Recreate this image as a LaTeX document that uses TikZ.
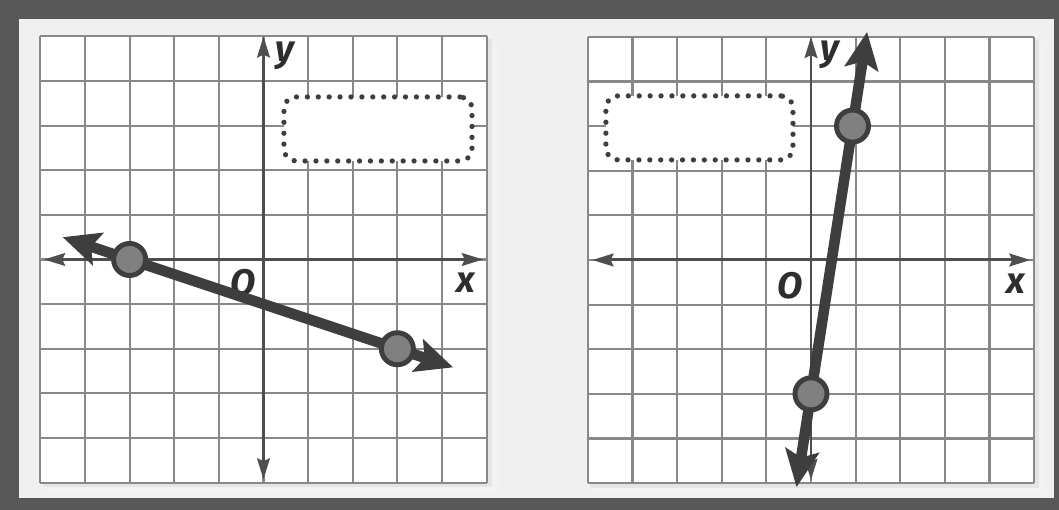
\documentclass[tikz,border=0pt]{standalone}
\usepackage{fontspec}
\setsansfont{Fira Sans}
\usetikzlibrary{arrows.meta}

\definecolor{framegray}{HTML}{585858}
\definecolor{backgray}{HTML}{F0F0F0}
\definecolor{gridgray}{HTML}{888888}
\definecolor{axisgray}{HTML}{4E4E4E}
\definecolor{linegray}{HTML}{3E3E3E}
\definecolor{pointgray}{HTML}{808080}
\definecolor{textgray}{HTML}{2E2E2E}

\begin{document}
\begin{tikzpicture}[x=0.01cm,y=0.01cm,
        axisline/.style={draw=axisgray,line width=0.85pt,
            {Stealth[length=6pt,width=3.6pt,inset=0.8pt]}-{Stealth[length=6pt,width=3.6pt,inset=0.8pt]}},
        plotline/.style={draw=linegray,line width=3pt,
            {Stealth[length=10.5pt,width=9.5pt,inset=2pt]}-{Stealth[length=10.5pt,width=9.5pt,inset=2pt]}},
        gridline/.style={draw=gridgray,line width=0.6pt},
        ptmark/.style={circle,draw=linegray,fill=pointgray,line width=1.4pt,
            minimum size=0.32cm,inner sep=0pt},
        answer/.style={draw=linegray,fill=white,line width=1.5pt,rounded corners=0.12cm,
            dash pattern=on 0pt off 3.1pt,line cap=round,inner sep=0pt},
        axislabel/.style={font=\sffamily\bfseries\itshape\fontsize{10.5}{12}\selectfont,
            text=textgray,inner sep=0pt},
        shade1/.style={fill=black!10},
        shade2/.style={fill=black!5},
    ]
    % frame
    \fill[framegray] (0,0) rectangle (1059,510);
    \fill[backgray] (19,12) rectangle (1054,491);

    % left graph
    \begin{scope}[shift={(263.5,250.5)},x=0.446cm,y=0.446cm]
        \fill[shade2] (-4.9,-5.22) rectangle (5.26,4.9);
        \fill[shade1] (-4.95,-5.1) rectangle (5.12,4.95);
        \fill[white] (-5,-5) rectangle (5,5);
        \draw[gridline,step=1] (-5,-5) grid (5,5);

        \draw[axisline] (-4.92,0) -- (4.92,0);
        \draw[axisline] (0,-4.93) -- (0,5);

        \node[axislabel] (ly) at (0.48,4.56) {y};
        \node[axislabel] (lx) at (4.54,-0.53) {x};
        \node[axislabel] (lo) at (-0.46,-0.53) {O};

        \node[answer,minimum width=1.88cm,minimum height=0.64cm] (lans)
            at (2.565,2.925) {};

        \coordinate (lstart) at (-4.5,0.5);
        \coordinate (lend)   at (4.25,-2.417);
        \draw[plotline] (lstart) -- (lend);
        \node[ptmark] (la) at (-3,0) {};
        \node[ptmark] (lb) at (3,-2) {};
    \end{scope}

    % right graph
    \begin{scope}[shift={(811,250)},x=0.446cm,y=0.446cm]
        \fill[shade2] (-4.9,-5.22) rectangle (5.26,4.9);
        \fill[shade1] (-4.95,-5.1) rectangle (5.12,4.95);
        \fill[white] (-5,-5) rectangle (5,5);
        \draw[gridline,step=1] (-5,-5) grid (5,5);

        \draw[axisline] (-4.9,0) -- (4.92,0);
        \draw[axisline] (0,-4.93) -- (0,5);

        \node[axislabel] (ry) at (0.43,4.6) {y};
        \node[axislabel] (rx) at (4.6,-0.54) {x};
        \node[axislabel] (ro) at (-0.47,-0.58) {O};

        \node[answer,minimum width=1.87cm,minimum height=0.64cm] (rans)
            at (-2.5,2.96) {};

        \coordinate (rstart) at (-0.324,-5.09);
        \coordinate (rend)   at (1.257,5.11);
        \draw[plotline] (rstart) -- (rend);
        \node[ptmark] (ra) at (0,-3) {};
        \node[ptmark] (rb) at (0.93,3) {};
    \end{scope}
\end{tikzpicture}
\end{document}
